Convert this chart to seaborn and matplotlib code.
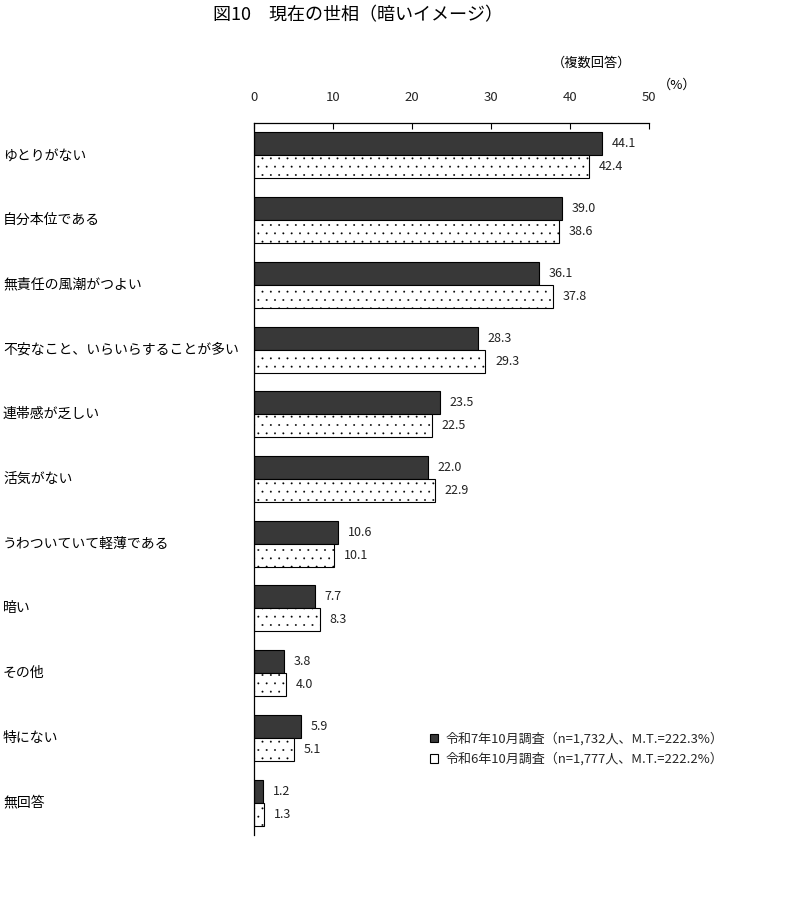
import pandas as pd
import matplotlib
matplotlib.use("Agg")
import matplotlib.pyplot as plt
import matplotlib.patches as mpatches
from matplotlib.transforms import blended_transform_factory
import seaborn as sns

# --- data ---
categories = [
    "ゆとりがない",
    "自分本位である",
    "無責任の風潮がつよい",
    "不安なこと、いらいらすることが多い",
    "連帯感が乏しい",
    "活気がない",
    "うわついていて軽薄である",
    "暗い",
    "その他",
    "特にない",
    "無回答",
]
r7_values = [44.1, 39.0, 36.1, 28.3, 23.5, 22.0, 10.6, 7.7, 3.8, 5.9, 1.2]
r6_values = [42.4, 38.6, 37.8, 29.3, 22.5, 22.9, 10.1, 8.3, 4.0, 5.1, 1.3]
series = [
    "令和7年10月調査（n=1,732人、M.T.=222.3%）",
    "令和6年10月調査（n=1,777人、M.T.=222.2%）",
]
x_ticks = [0, 10, 20, 30, 40, 50]

df = pd.DataFrame({
    "item": categories * 2,
    "value": r7_values + r6_values,
    "survey": [series[0]] * len(categories) + [series[1]] * len(categories),
})

sns.set_theme(style="white")
plt.rcParams["font.family"] = ["Noto Sans CJK JP", "DejaVu Sans"]
plt.rcParams["hatch.linewidth"] = 0.15

fig = plt.figure(figsize=(7.94, 8.98), dpi=100)
ax = fig.add_axes([254 / 794, 1 - 835 / 898, (649 - 254) / 794, (835 - 123) / 898])

sns.barplot(data=df, y="item", x="value", hue="survey", orient="h",
            order=categories, hue_order=series, width=0.71,
            palette=["#383838", "white"], edgecolor="black", linewidth=0.8,
            legend=False, ax=ax)

# dark fill for this year, sparse dots for last year
for bar in ax.containers[0]:
    bar.set_facecolor("#383838")
for bar in ax.containers[1]:
    bar.set_facecolor("white")
    bar.set_hatch("..")

for cont in ax.containers:
    ax.bar_label(cont, fmt="%.1f", padding=7, fontsize=9, color="#222222")

ax.set_xlim(0, 50)
ax.set_ylim(len(categories) - 0.5, -0.5)
ax.set_xticks(x_ticks)
ax.xaxis.tick_top()
ax.tick_params(axis="x", direction="in", length=4, width=0.8, pad=14,
               labelsize=9.5, color="black")
ax.set_yticks([])
ax.set_xlabel("")
ax.set_ylabel("")
for side in ["right", "bottom"]:
    ax.spines[side].set_visible(False)
for side in ["left", "top"]:
    ax.spines[side].set_color("black")
    ax.spines[side].set_linewidth(0.9)

# category labels, left aligned at the figure edge
trans = blended_transform_factory(fig.transFigure, ax.transData)
for i, name in enumerate(categories):
    ax.text(3 / 794, i, name, transform=trans, ha="left", va="center",
            fontsize=10, color="black")

fig.text(213 / 794, 1 - 15 / 898, "図10　現在の世相（暗いイメージ）",
         ha="left", va="center", fontsize=13, color="black")
fig.text(592 / 794, 1 - 63 / 898, "（複数回答）", ha="center", va="center",
         fontsize=9.5, color="black")
fig.text(677 / 794, 1 - 85 / 898, "（%）", ha="center", va="center",
         fontsize=9.5, color="black")

handles = [
    mpatches.Patch(facecolor="#383838", edgecolor="black", linewidth=0.8),
    mpatches.Patch(facecolor="white", edgecolor="black", linewidth=0.8),
]
fig.legend(handles, series, loc="center left",
           bbox_to_anchor=(418 / 794, 1 - 749 / 898), frameon=False,
           fontsize=9.4, handlelength=0.6, handleheight=0.6, handletextpad=0.6,
           labelspacing=0.55)

fig.savefig("out.png", dpi=100, facecolor="white")
